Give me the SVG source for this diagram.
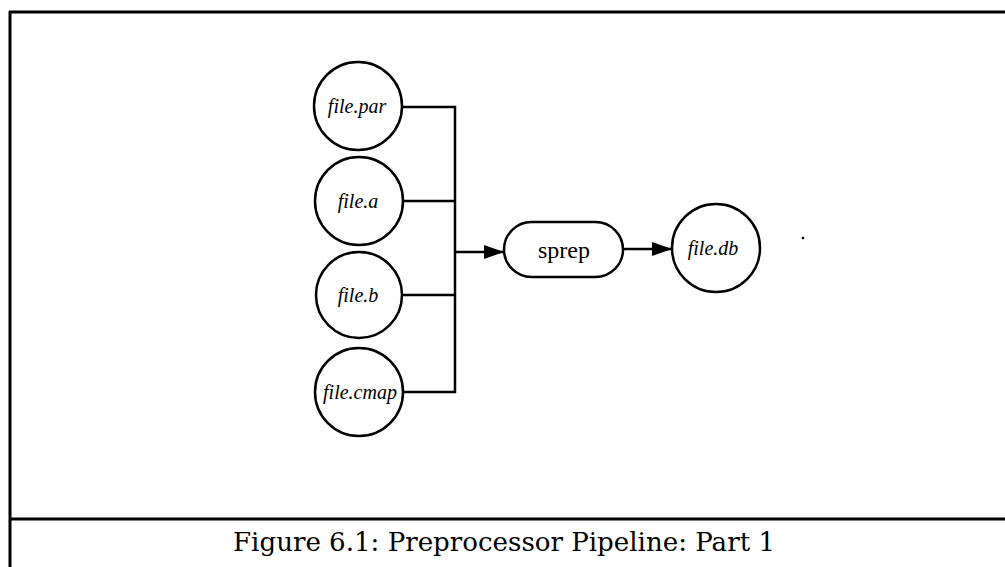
<svg xmlns="http://www.w3.org/2000/svg" width="1005" height="567" viewBox="0 0 1005 567">
  <style>
    .frame { stroke: #000; stroke-width: 3; fill: none; }
    .node { fill: #fff; stroke: #000; stroke-width: 2.5; }
    .wire { stroke: #000; stroke-width: 2.5; fill: none; }
    .flabel { font-family: "Liberation Serif", serif; font-style: italic; font-size: 20px; text-anchor: middle; fill: #000; }
    .plabel { font-family: "Liberation Serif", serif; font-size: 24px; text-anchor: middle; fill: #000; }
    .caption { font-family: "DejaVu Serif", "Liberation Serif", serif; font-size: 26px; fill: #000; }
  </style>
  <defs>
    <marker id="arrow" viewBox="0 0 20 14" refX="20" refY="7" markerWidth="20" markerHeight="14" markerUnits="userSpaceOnUse" orient="auto">
      <path d="M0,0 L20,7 L0,14 Z" fill="#000"/>
    </marker>
  </defs>
  <rect width="1005" height="567" fill="#fff"/>

  <!-- page frame -->
  <g id="frame">
    <line class="frame" x1="9" y1="12" x2="1005" y2="12"/>
    <line class="frame" x1="10" y1="11" x2="10" y2="567"/>
    <line class="frame" x1="9" y1="519" x2="1005" y2="519"/>
  </g>

  <!-- connectors -->
  <g id="connectors">
    <polyline class="wire" points="403,107 455,107 455,392 403,392"/>
    <line class="wire" x1="403" y1="201" x2="455" y2="201"/>
    <line class="wire" x1="403" y1="295" x2="455" y2="295"/>
    <line class="wire" x1="455" y1="252" x2="504" y2="252" marker-end="url(#arrow)"/>
    <line class="wire" x1="623" y1="249" x2="672" y2="249" marker-end="url(#arrow)"/>
  </g>

  <g id="file-par">
    <circle class="node" cx="358" cy="106" r="44"/>
    <text class="flabel" x="357" y="113">file.par</text>
  </g>
  <g id="file-a">
    <circle class="node" cx="359" cy="201" r="44"/>
    <text class="flabel" x="358" y="208">file.a</text>
  </g>
  <g id="file-b">
    <circle class="node" cx="359" cy="295" r="43"/>
    <text class="flabel" x="358" y="302">file.b</text>
  </g>
  <g id="file-cmap">
    <circle class="node" cx="359" cy="392" r="44"/>
    <text class="flabel" x="360" y="399">file.cmap</text>
  </g>
  <g id="sprep">
    <rect class="node" x="504" y="222" width="119" height="55" rx="27.5"/>
    <text class="plabel" x="564" y="258">sprep</text>
  </g>
  <g id="file-db">
    <circle class="node" cx="716" cy="248" r="44"/>
    <text class="flabel" x="713" y="255">file.db</text>
  </g>

  <circle cx="803" cy="238" r="1.3" fill="#000"/>

  <text class="caption" x="233" y="551" textLength="542" lengthAdjust="spacingAndGlyphs">Figure 6.1: Preprocessor Pipeline: Part 1</text>
</svg>
